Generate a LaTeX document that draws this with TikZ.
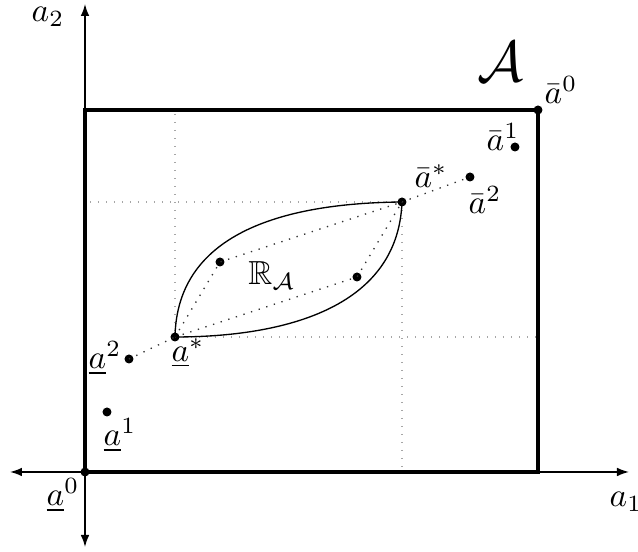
\documentclass[tikz,border=0pt]{standalone}
\usepackage{amsmath,amssymb}
\usetikzlibrary{arrows.meta}
\begin{document}
\begin{tikzpicture}[x=0.3pt,y=-0.3pt,
  dot/.style={circle,fill=black,inner sep=0pt,minimum size=2.7pt},
  axis/.style={line width=0.45pt,{Latex[length=3.6pt,width=2.6pt]}-{Latex[length=3.6pt,width=2.6pt]}},
  box/.style={line width=0.95pt},
  grid/.style={gray!70,dotted,line width=0.4pt},
  link/.style={black!80,dotted,line width=0.4pt},
  curve/.style={line width=0.4pt},
  lbl/.style={inner sep=0pt}]
\useasboundingbox (0,0) rectangle (638,552);
% axes
\coordinate (xl) at (10,472);
\coordinate (xr) at (629,472);
\coordinate (yb) at (85,547);
\coordinate (yt) at (85,4);
\draw[axis] (xl) -- (xr);
\draw[axis] (yb) -- (yt);
% box corners
\coordinate (bl) at (85,472);
\coordinate (tr) at (538,110);
\draw[box] (bl) rectangle (tr);
% grid coordinates
\coordinate (g1) at (175,114);
\coordinate (g2) at (90,202);
\coordinate (g3) at (402,472);
\coordinate (g4) at (536,337);
% points
\node[dot] (lo0) at (85,472) {};
\node[dot] (up0) at (538,110) {};
\node[dot] (up1) at (515,147) {};
\node[dot] (up2) at (470,177) {};
\node[dot] (ups) at (402,202) {};
\node[dot] (los) at (175,337) {};
\node[dot] (lo2) at (129,359) {};
\node[dot] (lo1) at (107,412) {};
\node[dot] (p1) at (220,262) {};
\node[dot] (p2) at (357,277) {};
% grid dotted lines
\draw[grid] (g1) -- (los.center);
\draw[grid] (g2) -- (ups.center);
\draw[grid] (ups.center) -- (g3);
\draw[grid] (los.center) -- (g4);
% dotted links
\draw[link] (lo2.center) -- (los.center);
\draw[link] (ups.center) -- (up2.center);
\draw[link] (los.center) -- (p1.center) -- (ups.center);
\draw[link] (los.center) -- (p2.center) -- (ups.center);
% curves
\draw[curve] (los.center) .. controls (177,230) and (290,203) .. (ups.center);
\draw[curve] (los.center) .. controls (280,337) and (398,310) .. (ups.center);
% labels
\node[lbl] (la2) at (48,17) {$a_2$};
\node[lbl] (la1) at (626,502) {$a_1$};
\node[lbl] (lA) at (500,62) {\LARGE$\mathcal{A}$};
\node[lbl] (lR) at (272,276) {$\mathbb{R}_{\mathcal{A}}$};
\node[lbl] (tup0) at (561,90) {$\bar{a}^0$};
\node[lbl] (tup1) at (503,137) {$\bar{a}^1$};
\node[lbl] (tup2) at (485,200) {$\bar{a}^2$};
\node[lbl] (tups) at (431,176) {$\bar{a}^*$};
\node[lbl] (tlos) at (188,353) {$\underline{a}^*$};
\node[lbl] (tlo2) at (105,358) {$\underline{a}^2$};
\node[lbl] (tlo1) at (120,435) {$\underline{a}^1$};
\node[lbl] (tlo0) at (63,495) {$\underline{a}^0$};
\end{tikzpicture}
\end{document}
